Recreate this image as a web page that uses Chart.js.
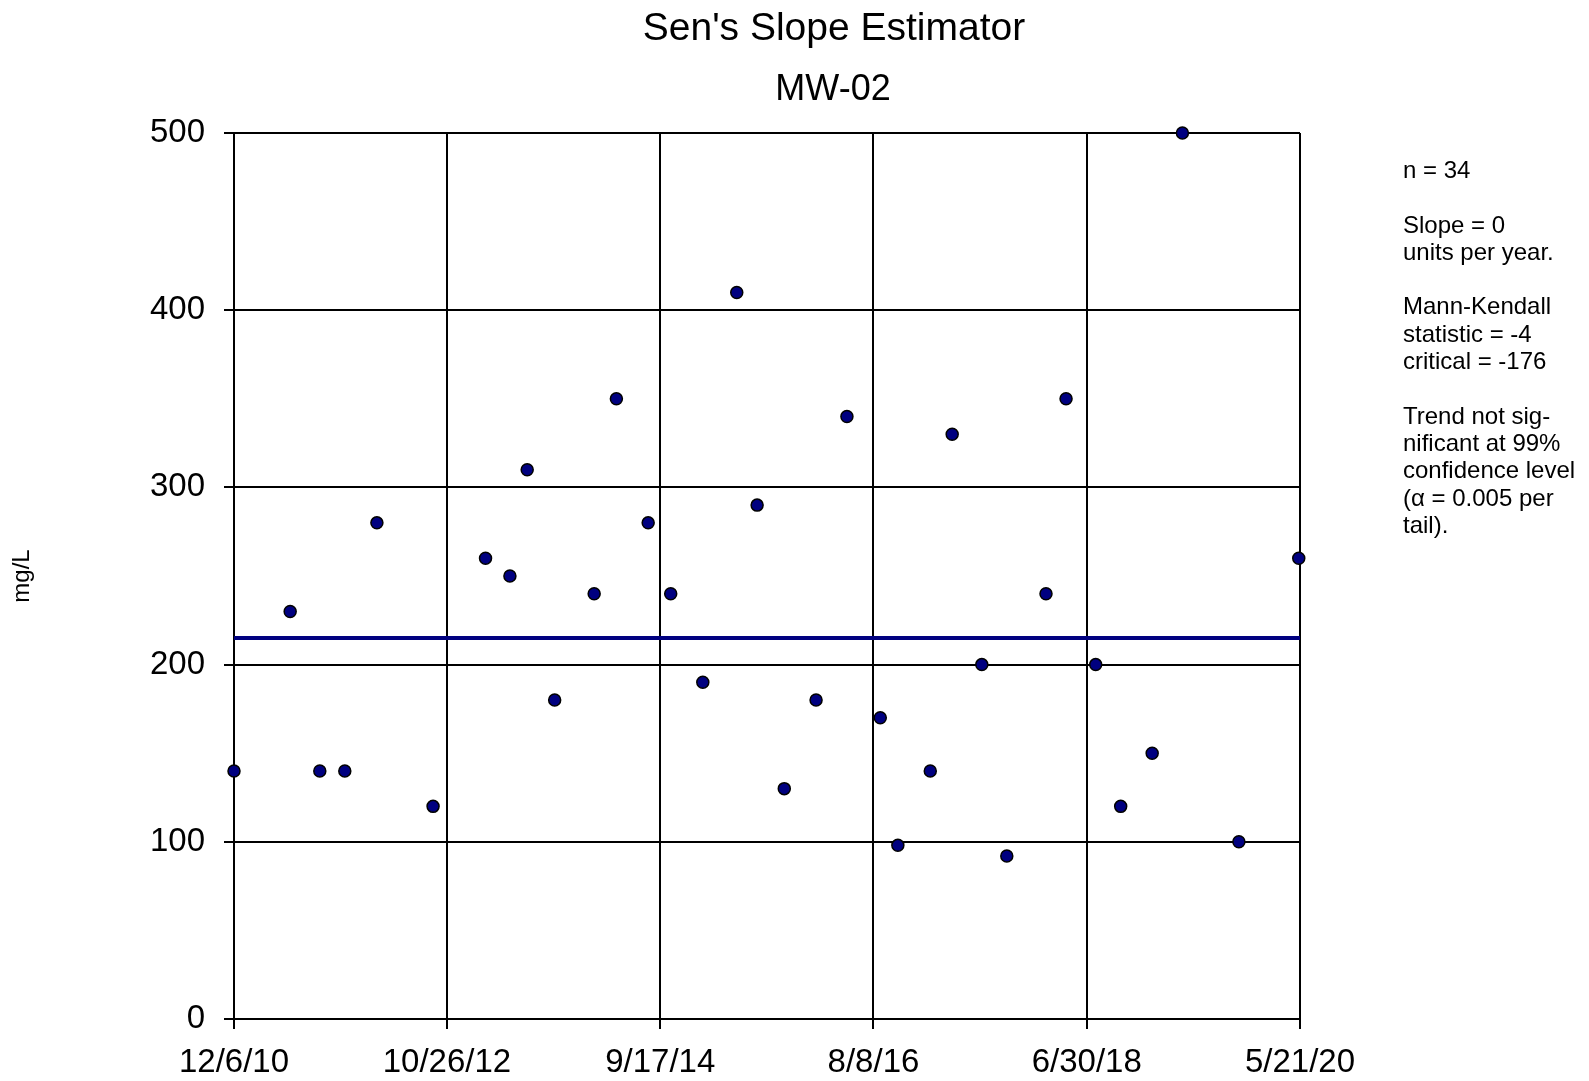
<!DOCTYPE html>
<html lang="en">
<head>
    <meta charset="UTF-8">
    <title>Sen's Slope Estimator - MW-02</title>
    <script src="https://cdn.jsdelivr.net/npm/chart.js"></script>
    <style>
        body { margin: 0; background: #fff; font-family: "Liberation Sans", Arial, sans-serif; }
        .wrap { position: relative; width: 1589px; height: 1081px; }
        .title, .subtitle { position: absolute; transform: translateX(-50%); white-space: nowrap; color: #000; }
        .title { left: 834px; top: 7px; font-size: 39px; line-height: 39px; }
        .subtitle { left: 833px; top: 70px; font-size: 36px; line-height: 36px; }
        .stats { position: absolute; left: 1403px; top: 156px; font-size: 24px; line-height: 27.3px; color: #000; white-space: pre; }
    </style>
</head>
<body>
    <div class="wrap">
        <canvas id="chart" width="1589" height="1081"></canvas>
        <div class="title">Sen's Slope Estimator</div>
        <div class="subtitle">MW-02</div>
        <div class="stats">n = 34

Slope = 0
units per year.

Mann-Kendall
statistic = -4
critical = -176

Trend not sig-
nificant at 99%
confidence level
(α = 0.005 per
tail).</div>
    </div>

    <script>
        // x axis tick labels (sample dates, M/D/YY)
        const xTickLabels = ['12/6/10', '10/26/12', '9/17/14', '8/8/16', '6/30/18', '5/21/20'];

        // sampling dates and measured concentrations (mg/L)
        const sampleDates = [
            '12/6/10', '6/6/11', '9/10/11', '11/30/11', '3/13/12', '9/11/12',
            '2/28/13', '5/18/13', '7/13/13', '10/10/13', '2/15/14', '4/28/14',
            '8/9/14', '10/21/14', '2/2/15', '5/23/15', '7/28/15', '10/24/15',
            '2/4/16', '5/14/16', '8/30/16', '10/26/16', '2/8/17', '4/20/17',
            '7/25/17', '10/14/17', '2/18/18', '4/24/18', '7/29/18', '10/18/18',
            '1/28/19', '5/6/19', '11/5/19', '5/17/20'
        ];
        const concentrations = [
            140, 230, 140, 140, 280, 120,
            260, 250, 310, 180, 240, 350,
            280, 240, 190, 410, 290, 130,
            180, 340, 170, 98, 140, 330,
            200, 92, 240, 350, 200, 120,
            150, 500, 100, 260
        ];

        // Sen's slope line (slope 0), value at first and last axis date
        const senLineDates = ['12/6/10', '5/21/20'];
        const senLineValues = [215, 215];

        const yMin = 0, yMax = 500, yStep = 100;

        function toDay(s) {
            const [m, d, y] = s.split('/').map(Number);
            return Date.UTC(2000 + y, m - 1, d) / 86400000;
        }

        const tickDays = xTickLabels.map(toDay);
        const labelByDay = {};
        tickDays.forEach((d, i) => { labelByDay[d] = xTickLabels[i]; });

        const points = sampleDates.map((d, i) => ({ x: toDay(d), y: concentrations[i] }));
        const senLine = senLineDates.map((d, i) => ({ x: toDay(d), y: senLineValues[i] }));

        const fontFamily = '"Liberation Sans", Arial, sans-serif';

        new Chart(document.getElementById('chart'), {
            type: 'scatter',
            data: {
                datasets: [
                    {
                        label: 'MW-02',
                        data: points,
                        backgroundColor: '#000080',
                        borderColor: '#000000',
                        borderWidth: 1.5,
                        pointRadius: 6,
                        pointHoverRadius: 6,
                        clip: false
                    },
                    {
                        type: 'line',
                        label: "Sen's slope",
                        data: senLine,
                        borderColor: '#000080',
                        borderWidth: 4,
                        pointRadius: 0,
                        fill: false
                    }
                ]
            },
            options: {
                responsive: false,
                animation: false,
                events: [],
                layout: { padding: { top: 133, right: 289, bottom: 0, left: 0 } },
                plugins: {
                    legend: { display: false },
                    title: { display: false },
                    tooltip: { enabled: false }
                },
                scales: {
                    x: {
                        type: 'linear',
                        min: tickDays[0],
                        max: tickDays[tickDays.length - 1],
                        afterBuildTicks: (scale) => {
                            scale.ticks = tickDays.map(v => ({ value: v }));
                        },
                        afterFit: (scale) => { scale.height = 62; },
                        ticks: {
                            callback: (v) => labelByDay[v],
                            color: '#000',
                            font: { family: fontFamily, size: 33 },
                            padding: 14,
                            maxRotation: 0,
                            autoSkip: false
                        },
                        grid: { color: '#000', lineWidth: 2, tickLength: 10 },
                        border: { color: '#000', width: 2 }
                    },
                    y: {
                        min: yMin,
                        max: yMax,
                        afterFit: (scale) => { scale.width = 234; },
                        ticks: {
                            stepSize: yStep,
                            color: '#000',
                            font: { family: fontFamily, size: 33 },
                            padding: 19
                        },
                        grid: { color: '#000', lineWidth: 2, tickLength: 10 },
                        border: { color: '#000', width: 2 },
                        title: {
                            display: true,
                            text: 'mg/L',
                            color: '#000',
                            font: { family: fontFamily, size: 24 },
                            padding: { top: 8, bottom: 0 }
                        }
                    }
                }
            }
        });
    </script>
</body>
</html>
